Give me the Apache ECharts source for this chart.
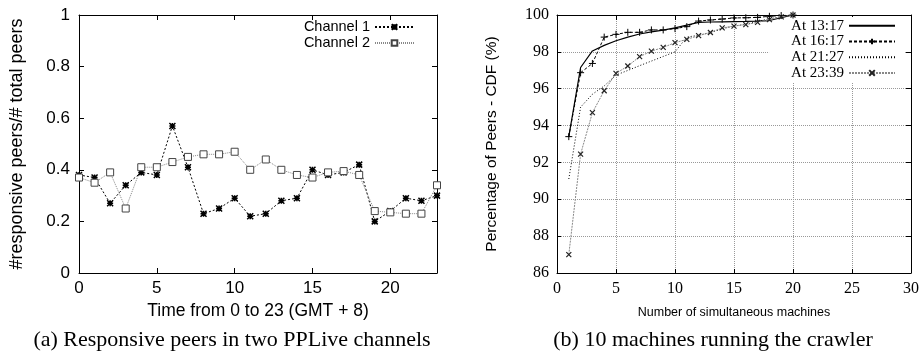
<!DOCTYPE html>
<html>
<head>
<meta charset="utf-8">
<script src="https://cdn.jsdelivr.net/npm/echarts@6/dist/echarts.min.js"></script>
<style>
html,body{margin:0;padding:0;background:#fff;}
#c{width:922px;height:353px;}
</style>
</head>
<body>
<div id="c"></div>
<script>
// ---- Left panel: responsive peers ----
const hours = [0,1,2,3,4,5,6,7,8,9,10,11,12,13,14,15,16,17,18,19,20,21,22,23];
const channel1 = [0.38,0.37,0.27,0.34,0.39,0.38,0.57,0.41,0.23,0.25,0.29,0.22,0.23,0.28,0.29,0.40,0.38,0.39,0.42,0.20,0.24,0.29,0.28,0.30];
const channel2 = [0.37,0.35,0.39,0.25,0.41,0.41,0.43,0.45,0.46,0.46,0.47,0.40,0.44,0.40,0.38,0.37,0.39,0.395,0.38,0.24,0.235,0.23,0.23,0.34];

// ---- Right panel: CDF vs number of machines ----
const machines = [1,2,3,4,5,6,7,8,9,10,11,12,13,14,15,16,17,18,19,20];
const at1317 = [93.4,97.15,98.05,98.35,98.6,98.8,98.97,99.08,99.18,99.3,99.45,99.6,99.62,99.63,99.64,99.65,99.67,99.7,99.85,100];
const at1617 = [93.4,96.87,97.37,98.8,98.95,99.06,99.06,99.19,99.19,99.26,99.37,99.67,99.73,99.78,99.84,99.85,99.87,99.93,99.97,100];
const at2127 = [91.1,95.0,95.7,96.15,96.74,96.99,97.25,97.5,97.75,98.0,98.8,98.9,99.05,99.25,99.4,99.5,99.65,99.8,99.9,100];
const at2339 = [87.0,92.45,94.7,95.89,96.83,97.23,97.74,98.04,98.24,98.5,98.68,98.88,99.05,99.3,99.4,99.48,99.6,99.75,99.9,100];

const pairs = (xs, ys) => xs.map((x, i) => [x, ys[i]]);

const SANS = 'Liberation Sans';
const SERIF = 'Liberation Serif';

const asterisk = 'path://M0,0L10,10M10,0L0,10M5,0L5,10M0,5L10,5';
const plus = 'path://M5,0L5,10M0,5L10,5';
const cross = 'path://M0,0L10,10M10,0L0,10';
const hidden = {color: 'rgba(0,0,0,0)', borderColor: 'rgba(0,0,0,0)', borderWidth: 0};

const chart = echarts.init(document.getElementById('c'), null, {renderer: 'canvas'});

const boxAxis = (gridIndex, pos, min, max, interval) => ({
  type: 'value', gridIndex, position: pos, min, max, interval,
  axisLine: {show: true, onZero: false, lineStyle: {color: '#000', width: 1}},
  axisTick: {show: true, inside: true, length: 5, lineStyle: {color: '#000'}},
  axisLabel: {show: false},
  splitLine: {show: false}
});

chart.setOption({
  animation: false,
  backgroundColor: '#fff',
  grid: [
    {left: 79, top: 15, width: 358, height: 258, containLabel: false},
    {left: 557, top: 15, width: 356, height: 258, containLabel: false}
  ],
  legend: [
    {
      data: ['Channel 1', 'Channel 2'],
      orient: 'vertical', align: 'right',
      right: 507, top: 19,
      itemWidth: 39, itemHeight: 7, itemGap: 0,
      padding: 0,
      textStyle: {fontFamily: SANS, fontSize: 14.5, lineHeight: 16, color: '#000'}
    },
    {
      data: [
        {name: 'At 13:17', itemStyle: hidden},
        'At 16:17',
        {name: 'At 21:27', itemStyle: hidden},
        'At 23:39'
      ],
      orient: 'vertical', align: 'right',
      right: 17, top: 17,
      itemWidth: 46, itemHeight: 7, itemGap: 0,
      padding: [1, 9, 2, 22],
      backgroundColor: '#fff',
      textStyle: {fontFamily: SERIF, fontSize: 15, lineHeight: 15.7, color: '#000'}
    }
  ],
  graphic: [
    {type: 'text', style: {text: '(a) Responsive peers in two PPLive channels', font: '22px "Liberation Serif"', fill: '#000', x: 232, y: 340, align: 'center', verticalAlign: 'middle'}},
    {type: 'text', style: {text: '(b) 10 machines running the crawler', font: '22px "Liberation Serif"', fill: '#000', x: 713, y: 340, align: 'center', verticalAlign: 'middle'}}
  ],
  xAxis: [
    {
      type: 'value', gridIndex: 0, position: 'bottom', min: 0, max: 23, interval: 5,
      name: 'Time from 0 to 23 (GMT + 8)', nameLocation: 'middle', nameGap: 28,
      nameTextStyle: {fontFamily: SANS, fontSize: 17.5, color: '#000'},
      axisLine: {show: true, onZero: false, lineStyle: {color: '#000', width: 1}},
      axisTick: {show: true, inside: true, length: 5, lineStyle: {color: '#000'}},
      axisLabel: {fontFamily: SANS, fontSize: 17, color: '#000', margin: 7,
        formatter: v => (v % 5 === 0 ? String(v) : '')},
      splitLine: {show: false}
    },
    boxAxis(0, 'top', 0, 23, 5),
    {
      type: 'value', gridIndex: 1, position: 'bottom', min: 0, max: 30, interval: 5,
      name: 'Number of simultaneous machines', nameLocation: 'middle', nameGap: 33,
      nameTextStyle: {fontFamily: SANS, fontSize: 12.5, color: '#000'},
      axisLine: {show: true, onZero: false, lineStyle: {color: '#000', width: 1}},
      axisTick: {show: true, inside: true, length: 4, lineStyle: {color: '#000'}},
      axisLabel: {fontFamily: SERIF, fontSize: 16, color: '#000', margin: 8},
      splitLine: {show: true, lineStyle: {color: '#999', type: [1, 1], width: 1}}
    },
    boxAxis(1, 'top', 0, 30, 5)
  ],
  yAxis: [
    {
      type: 'value', gridIndex: 0, position: 'left', min: 0, max: 1, interval: 0.2,
      name: '#responsive peers/# total peers', nameLocation: 'middle', nameGap: 53,
      nameTextStyle: {fontFamily: SANS, fontSize: 18, color: '#000'},
      axisLine: {show: true, onZero: false, lineStyle: {color: '#000', width: 1}},
      axisTick: {show: true, inside: true, length: 5, lineStyle: {color: '#000'}},
      axisLabel: {fontFamily: SANS, fontSize: 17, color: '#000', margin: 9},
      splitLine: {show: false}
    },
    boxAxis(0, 'right', 0, 1, 0.2),
    {
      type: 'value', gridIndex: 1, position: 'left', min: 86, max: 100, interval: 2,
      name: 'Percentage of Peers - CDF (%)', nameLocation: 'middle', nameGap: 57,
      nameTextStyle: {fontFamily: SANS, fontSize: 15.5, color: '#000'},
      axisLine: {show: true, onZero: false, lineStyle: {color: '#000', width: 1}},
      axisTick: {show: true, inside: true, length: 4, lineStyle: {color: '#000'}},
      axisLabel: {fontFamily: SERIF, fontSize: 16, color: '#000', margin: 8},
      splitLine: {show: true, lineStyle: {color: '#999', type: [1, 1], width: 1}}
    },
    boxAxis(1, 'right', 86, 100, 2)
  ],
  series: [
    {
      name: 'Channel 1', type: 'line', xAxisIndex: 0, yAxisIndex: 0,
      data: pairs(hours, channel1),
      symbol: asterisk, symbolSize: 6,
      lineStyle: {color: '#000', width: 1, type: [2, 2]},
      itemStyle: {color: '#000', borderColor: '#000', borderWidth: 1.5},
      z: 5
    },
    {
      name: 'Channel 2', type: 'line', xAxisIndex: 0, yAxisIndex: 0,
      data: pairs(hours, channel2),
      symbol: 'rect', symbolSize: 7,
      lineStyle: {color: '#888', width: 1, type: [1, 1]},
      itemStyle: {color: '#fff', borderColor: '#444', borderWidth: 1},
      z: 5
    },
    {
      name: 'At 13:17', type: 'line', xAxisIndex: 2, yAxisIndex: 2,
      data: pairs(machines, at1317),
      symbol: 'none',
      lineStyle: {color: '#000', width: 1.2, type: 'solid'},
      itemStyle: {color: '#000'},
      z: 6
    },
    {
      name: 'At 16:17', type: 'line', xAxisIndex: 2, yAxisIndex: 2,
      data: pairs(machines, at1617),
      symbol: plus, symbolSize: 7,
      lineStyle: {color: '#000', width: 1, type: [3, 2]},
      itemStyle: {color: '#000', borderColor: '#000', borderWidth: 1},
      z: 6
    },
    {
      name: 'At 21:27', type: 'line', xAxisIndex: 2, yAxisIndex: 2,
      data: pairs(machines, at2127),
      symbol: 'none',
      lineStyle: {color: '#000', width: 1, type: [1, 2]},
      itemStyle: {color: '#000'},
      z: 6
    },
    {
      name: 'At 23:39', type: 'line', xAxisIndex: 2, yAxisIndex: 2,
      data: pairs(machines, at2339),
      symbol: cross, symbolSize: 5,
      lineStyle: {color: '#888', width: 1, type: [2, 1]},
      itemStyle: {color: '#222', borderColor: '#222', borderWidth: 1.2},
      z: 6
    }
  ]
});
</script>
</body>
</html>
